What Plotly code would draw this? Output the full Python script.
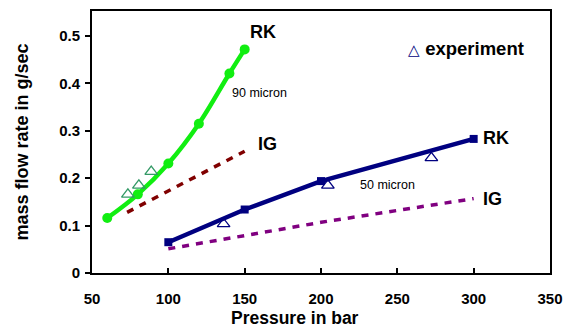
import plotly.graph_objects as go

# 90 micron
rk90_p = [60, 80, 100, 120, 140, 150]
rk90_m = [0.116, 0.166, 0.231, 0.315, 0.421, 0.472]
ig90_p = [73, 100, 125, 150]
ig90_m = [0.128, 0.173, 0.215, 0.257]
exp90_p = [73.5, 80.7, 88.8]
exp90_m = [0.166, 0.185, 0.214]

# 50 micron
rk50_p = [100, 150, 200, 300]
rk50_m = [0.065, 0.134, 0.194, 0.283]
ig50_p = [100, 150, 200, 250, 300]
ig50_m = [0.051, 0.079, 0.107, 0.132, 0.157]
exp50_p = [136.2, 204.5, 272.3]
exp50_m = [0.1035, 0.185, 0.243]

x_ticks = [50, 100, 150, 200, 250, 300, 350]
y_ticks = [0, 0.1, 0.2, 0.3, 0.4, 0.5]

FONT = "Liberation Sans, Arial, sans-serif"

fig = go.Figure()
fig.add_trace(go.Scatter(x=ig90_p, y=ig90_m, mode="lines",
                         line=dict(color="#800000", width=3.5, dash="7px,7px")))
fig.add_trace(go.Scatter(x=ig50_p, y=ig50_m, mode="lines",
                         line=dict(color="#800080", width=3.5, dash="7px,7px")))
fig.add_trace(go.Scatter(x=rk90_p, y=rk90_m, mode="lines+markers",
                         line=dict(color="#11ee11", width=4.5, shape="spline"),
                         marker=dict(symbol="circle", size=10, color="#11ee11")))
fig.add_trace(go.Scatter(x=rk50_p, y=rk50_m, mode="lines+markers",
                         line=dict(color="#000080", width=4.5),
                         marker=dict(symbol="square", size=8, color="#000080")))
fig.add_trace(go.Scatter(x=exp90_p, y=exp90_m, mode="markers",
                         marker=dict(symbol="triangle-up-open", size=11, color="#339966",
                                     line=dict(width=1.3, color="#339966"))))
fig.add_trace(go.Scatter(x=exp50_p, y=exp50_m, mode="markers",
                         marker=dict(symbol="triangle-up-open", size=11, color="#000080",
                                     line=dict(width=1.3, color="#000080"))))

big = dict(family=FONT, size=18, color="black")
small = dict(family=FONT, size=12.5, color="black")
anns = [
    dict(x=161.7, y=0.509, text="<b>RK</b>", font=big),
    dict(x=165, y=0.272, text="<b>IG</b>", font=big),
    dict(x=159.8, y=0.379, text="90 micron", font=small),
    dict(x=314.9, y=0.285, text="<b>RK</b>", font=big),
    dict(x=312.4, y=0.157, text="<b>IG</b>", font=big),
    dict(x=243.6, y=0.185, text="50 micron", font=small),
    dict(x=295.1, y=0.473,
         text="<span style='color:#000080;font-weight:normal;font-size:15px'>△</span> <b>experiment</b>",
         font=dict(family=FONT, size=18.5, color="black")),
]
for a in anns:
    a.update(xref="x", yref="y", showarrow=False)
# x-axis title (offset left of the plot centre, as in the original)
anns.append(dict(xref="paper", yref="paper", x=0.444, y=-0.172, xanchor="center",
                 yanchor="middle", showarrow=False, text="<b>Pressure in bar</b>",
                 font=dict(family=FONT, size=17.5, color="black")))
fig.update_layout(annotations=anns)

fig.update_layout(
    width=572, height=332,
    margin=dict(l=92, r=21, t=9, b=59),
    plot_bgcolor="white", paper_bgcolor="white",
    showlegend=False,
    font=dict(family=FONT, color="black"),
)
fig.update_xaxes(range=[50, 350], tickvals=x_ticks, ticks="inside", ticklen=5,
                 tickcolor="black", tickwidth=1.5, ticklabelstandoff=11,
                 showline=True, linecolor="black", linewidth=2, mirror=True,
                 showgrid=False, zeroline=False,
                 tickfont=dict(family=FONT, size=15, color="black", weight="bold"))
fig.update_yaxes(range=[0, 0.553], tickvals=y_ticks, ticks="outside", ticklen=5,
                 tickcolor="black", tickwidth=1.5, ticklabelstandoff=2,
                 showline=True, linecolor="black", linewidth=2, mirror=True,
                 showgrid=False, zeroline=False,
                 tickfont=dict(family=FONT, size=15, color="black", weight="bold"),
                 title=dict(text="<b>mass flow rate in g/sec</b>", font=dict(family=FONT, size=18), standoff=26))

fig.write_html("out.html")
